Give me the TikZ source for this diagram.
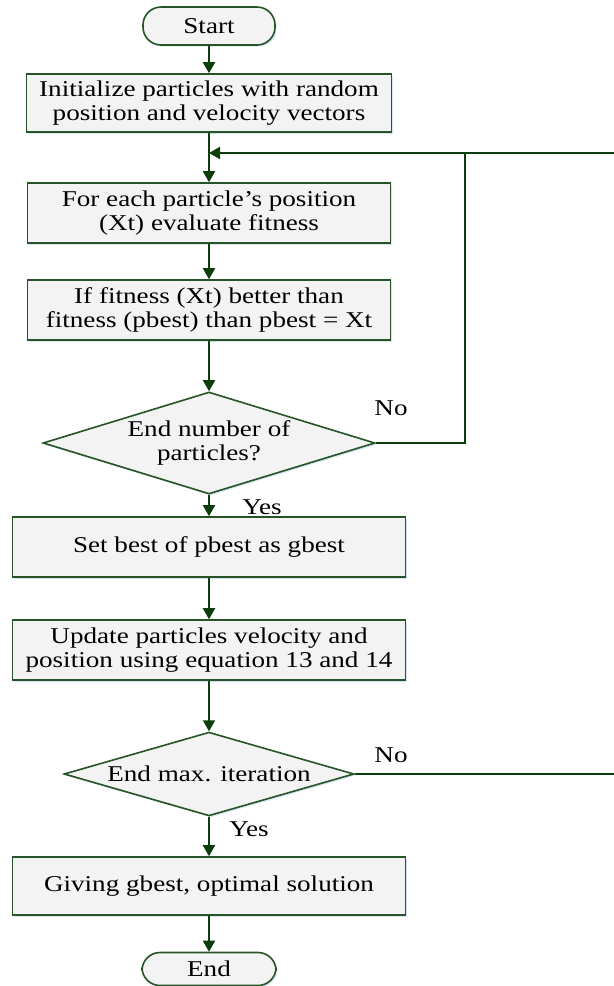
\documentclass[tikz,border=0pt]{standalone}
\usepackage{fontspec}
\setmainfont{Liberation Serif}[FakeStretch=1.2]
\usetikzlibrary{shapes.geometric,arrows.meta,shadows}

\definecolor{boxline}{RGB}{38,84,38}
\definecolor{flowline}{RGB}{12,62,12}
\definecolor{boxfill}{RGB}{243,243,243}
\definecolor{glow}{RGB}{214,228,245}

\tikzset{
  every node/.style={font=\fontsize{11.3}{12}\selectfont},
  procbox/.style={draw=boxline, fill=boxfill, line width=0.8pt, align=center, inner sep=0pt,
    drop shadow={shadow xshift=0.8pt, shadow yshift=-0.8pt, fill=glow, opacity=1}},
  terminal/.style={procbox, rounded corners=9pt},
  decision/.style={procbox, diamond, aspect=3},
  flow/.style={draw=flowline, line width=1pt, -{Triangle[length=5.5pt,width=6pt]}},
  plainflow/.style={draw=flowline, line width=1pt},
  lbl/.style={inner sep=0pt}
}

\begin{document}
\begin{tikzpicture}[x=0.5pt,y=-0.5pt]
  \useasboundingbox (0,0) rectangle (614,986);

  % boxes
  \node[terminal, minimum width=66pt, minimum height=19pt] (start) at (209,26) {Start};
  \node[procbox, minimum width=182.5pt, minimum height=29pt] (init) at (209,103) {Initialize particles with random\\position and velocity vectors};
  \node[procbox, minimum width=181.5pt, minimum height=30pt] (eval) at (209,213) {For each particle's position\\(Xt) evaluate fitness};
  \node[procbox, minimum width=181.5pt, minimum height=30pt] (pbest) at (209,310) {If fitness (Xt) better than\\fitness (pbest) than pbest = Xt};
  \node[decision, minimum width=166pt, minimum height=51pt] (nump) at (209,443) {End number of\\particles?};
  \node[procbox, minimum width=196.5pt, minimum height=30pt] (gbest) at (209,547) {Set best of pbest as gbest};
  \node[procbox, minimum width=196.5pt, minimum height=30pt] (update) at (209,650) {Update particles velocity and\\position using equation 13 and 14};
  \node[decision, minimum width=145pt, minimum height=36.5pt] (maxit) at (209,774) {End max. iteration};
  \node[procbox, minimum width=196.5pt, minimum height=29pt] (giving) at (209,886) {Giving gbest, optimal solution};
  \node[terminal, minimum width=67pt, minimum height=16.5pt] (end) at (209,969) {End};

  % labels
  \node[lbl] (no1) at (391,408) {No};
  \node[lbl] (yes1) at (262,507) {Yes};
  \node[lbl] (no2) at (391,755) {No};
  \node[lbl] (yes2) at (249,829) {Yes};

  % loop points
  \coordinate (join) at (209,153);
  \coordinate (loopR) at (465,443);
  \coordinate (edgeT) at (614,153);
  \coordinate (edgeR) at (614,774);

  % arrows
  \draw[flow] (start) -- (init);
  \draw[flow] (init) -- (eval);
  \draw[flow] (eval) -- (pbest);
  \draw[flow] (pbest) -- (nump);
  \draw[flow] (nump) -- (gbest);
  \draw[flow] (gbest) -- (update);
  \draw[flow] (update) -- (maxit);
  \draw[flow] (maxit) -- (giving);
  \draw[flow] (giving) -- (end);
  \draw[flow] (nump.east) -- (loopR) |- (join);
  \draw[plainflow] (edgeT) -- (loopR |- edgeT);
  \draw[plainflow] (maxit.east) -- (edgeR);
\end{tikzpicture}
\end{document}
